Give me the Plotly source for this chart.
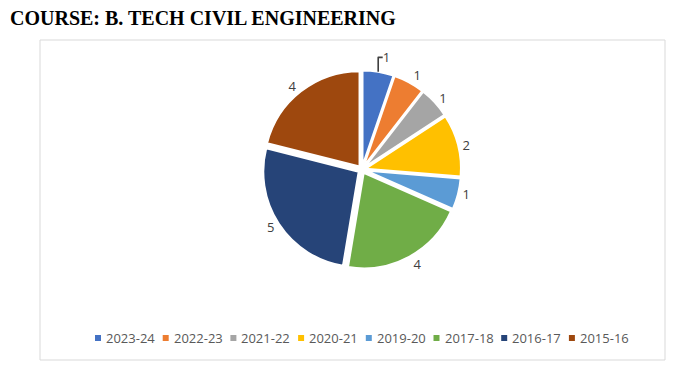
import plotly.graph_objects as go

labels = ["2023-24", "2022-23", "2021-22", "2020-21", "2019-20", "2017-18", "2016-17", "2015-16"]
values = [1, 1, 1, 2, 1, 4, 5, 4]
colors = ["#4472C4", "#ED7D31", "#A5A5A5", "#FFC000", "#5B9BD5", "#70AD47", "#264478", "#9E480E"]

W, H = 676, 390
ML, MR, MT, MB = 40, 11, 40, 30
PW, PH = W - ML - MR, H - MT - MB

fig = go.Figure(go.Pie(
    labels=labels, values=values, sort=False, direction="clockwise", rotation=0,
    marker=dict(colors=colors, line=dict(color="white", width=2)),
    pull=[0.04] * len(values),
    textinfo="value", textposition="outside",
    textfont=dict(family="Open Sans", size=13, color="#404040"),
    outsidetextfont=dict(family="Open Sans", size=13, color="#404040"),
    domain=dict(x=[0.305, 0.725], y=[0.285, 0.905]),
    showlegend=False,
))

# custom one-line legend built from labels/colors
shapes = [dict(type="rect", xref="paper", yref="paper", x0=0, y0=0, x1=1, y1=1,
               line=dict(color="#D9D9D9", width=1))]
annotations = []
y_leg = (H - 338 - MB) / PH
for i, (lab, col) in enumerate(zip(labels, colors)):
    xs = 98 + i * 67.7 - ML
    shapes.append(dict(type="rect", xref="paper", yref="paper",
                       x0=(xs - 3) / PW, x1=(xs + 3) / PW,
                       y0=y_leg - 3 / PH, y1=y_leg + 3 / PH,
                       fillcolor=col, line=dict(width=0)))
    annotations.append(dict(text=lab, xref="paper", yref="paper", x=(xs + 6) / PW, y=y_leg,
                            xanchor="left", yanchor="middle", showarrow=False,
                            font=dict(family="Open Sans", size=13, color="#595959")))

fig.update_layout(
    width=W, height=H,
    margin=dict(l=ML, r=MR, t=MT, b=MB, autoexpand=False),
    paper_bgcolor="white",
    title=dict(text="<b>COURSE: B. TECH CIVIL ENGINEERING</b>", x=10/W, xanchor="left",
               xref="container", yref="container", y=1 - 18/H, yanchor="middle",
               font=dict(family="Liberation Serif", size=20, color="black")),
    shapes=shapes,
    annotations=annotations,
)

fig.write_html("out.html", config={"displayModeBar": False},
               post_script="document.body.style.margin='0';")
